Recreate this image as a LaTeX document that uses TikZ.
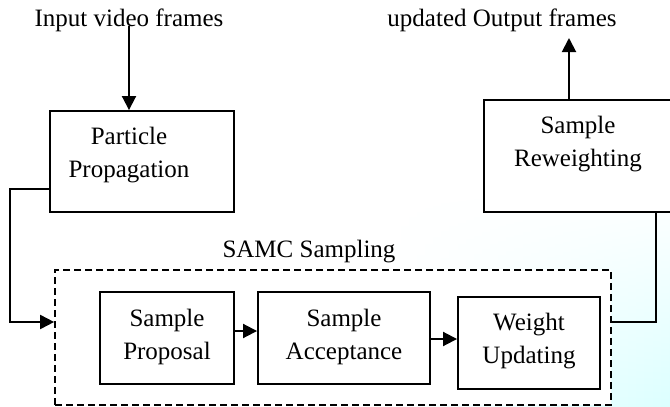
\documentclass[tikz,border=0pt]{standalone}
\usepackage{fontspec}
\setmainfont{Liberation Serif}
\usetikzlibrary{arrows.meta,fadings}
\begin{document}
\begin{tikzpicture}[x=1pt,y=-1pt,
  every node/.style={font=\fontsize{25}{33}\selectfont, inner sep=0pt},
  box/.style={draw, line width=1.9pt, fill=white},
  lbl/.style={align=center},
  conn/.style={line width=1.9pt},
  arr/.style={conn, -{Triangle[length=14pt,width=14pt]}},
  grp/.style={draw, line width=1.7pt, dash pattern=on 7pt off 4pt, fill=white}]
\useasboundingbox (0,0) rectangle (670,407);
% faint background watermark
\shade[left color=white, right color=cyan!14, path fading=north] (380,190) rectangle (670,407);
% title texts
\node[anchor=base] (inp) at (129,26) {Input video frames};
\node[anchor=base] (outp) at (502,26) {updated Output frames};
% boxes
\node[box, minimum width=184pt, minimum height=101pt] (pp) at (142,161.5) {};
\node[lbl] (ppt) at (129,154.7) {Particle\\Propagation};
\node[box, minimum width=188pt, minimum height=112pt] (rw) at (578,156) {};
\node[lbl] (rwt) at (578,143.7) {Sample\\Reweighting};
\node[grp, minimum width=556pt, minimum height=135pt] (samc) at (333,337.5) {};
\node[anchor=base] (samct) at (309,257) {SAMC Sampling};
\node[box, minimum width=134pt, minimum height=92pt] (prop) at (167,338) {};
\node[lbl] (propt) at (167,336.6) {Sample\\Proposal};
\node[box, minimum width=172pt, minimum height=92pt] (acc) at (344,338) {};
\node[lbl] (acct) at (344,336.6) {Sample\\Acceptance};
\node[box, minimum width=142pt, minimum height=92pt] (wu) at (529,343) {};
\node[lbl] (wut) at (529,340.7) {Weight\\Updating};
% connectors
\coordinate (otip) at (569,38);
\draw[arr] (inp.base) -- (inp.base |- pp.north);
\draw[arr] (rw.north -| otip) -- (otip);
\draw[arr] ([yshift=-27.5pt]pp.west) -- ++(-39pt,0) |- ([yshift=15.5pt]samc.west);
\draw[conn] ([yshift=15.5pt]samc.east) -| ([xshift=78pt]rw.south);
\draw[arr] ([yshift=7pt]prop.east) -- ([yshift=7pt]acc.west);
\draw[arr] ([yshift=-1pt]acc.east) -- ([yshift=-1pt]acc.east -| wu.west);
\end{tikzpicture}
\end{document}
